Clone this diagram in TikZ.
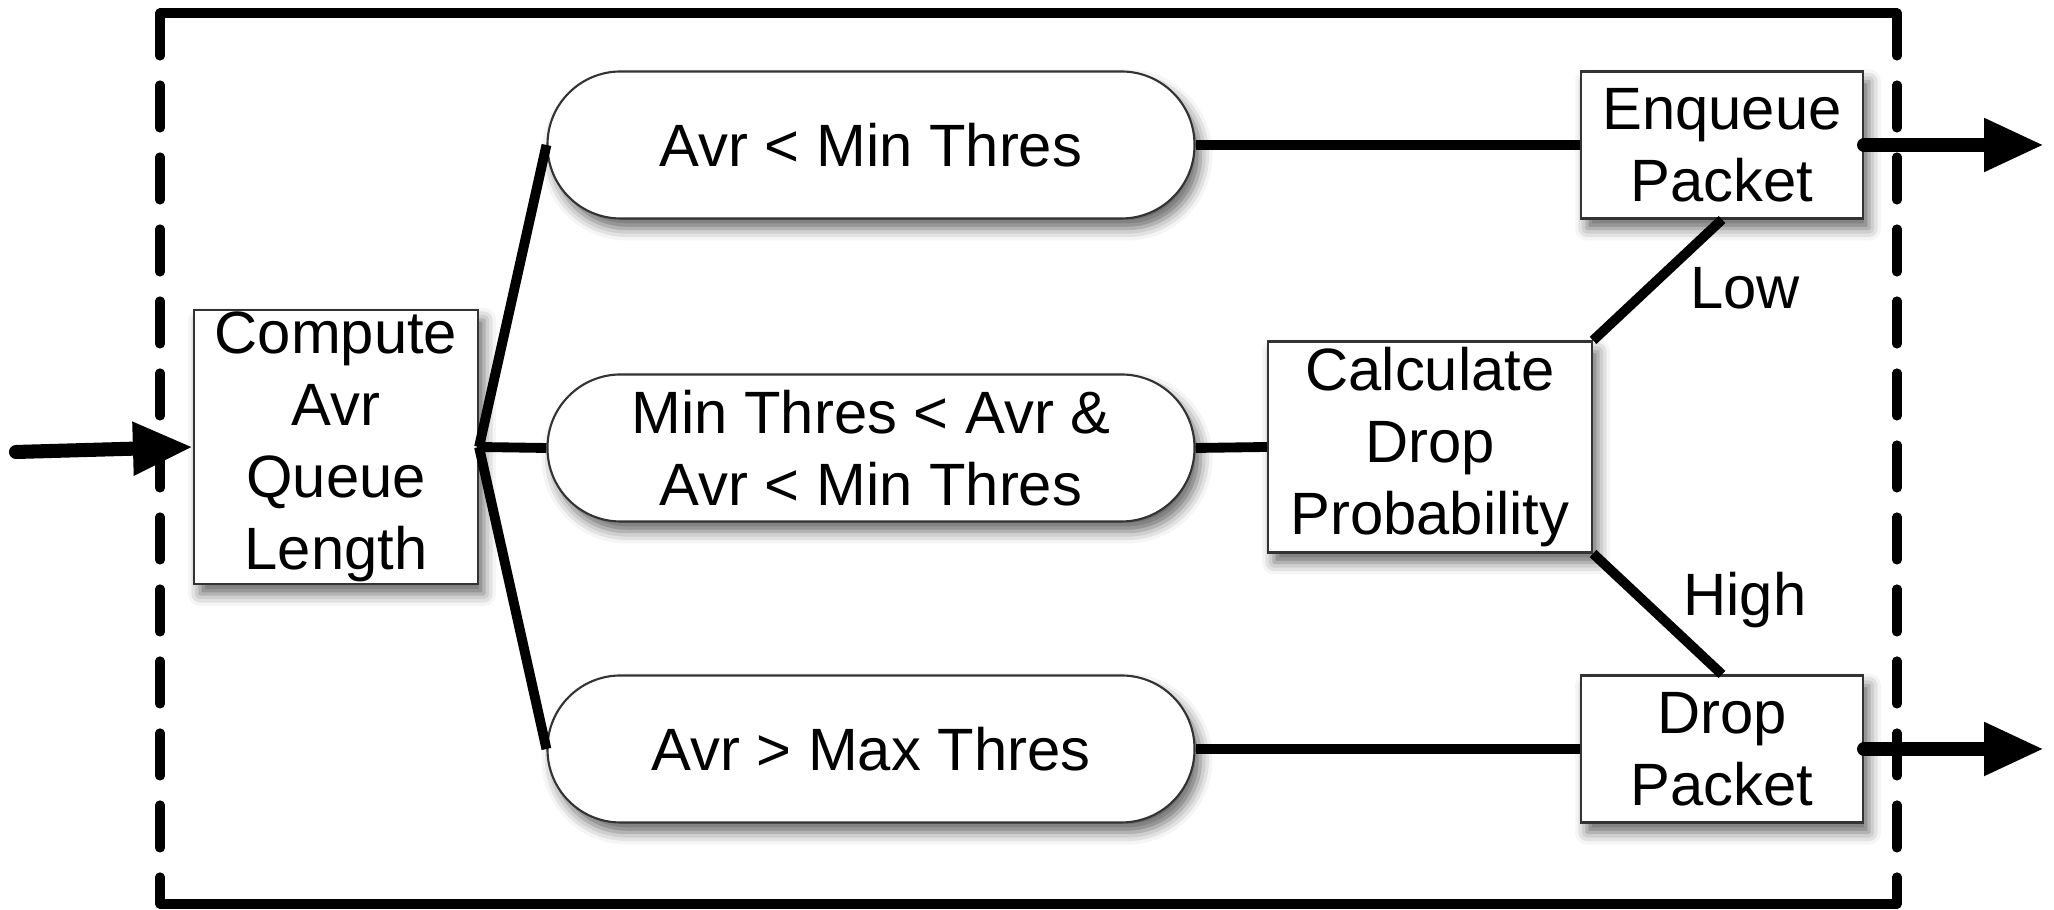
\documentclass[tikz,border=0pt]{standalone}
\usepackage{fontspec}
\setmainfont{Liberation Sans}
\usetikzlibrary{arrows.meta,shadows.blur}

\begin{document}
\begin{tikzpicture}[
        font=\fontsize{17}{20.5}\selectfont,
        box/.style={rectangle, draw=black!80, line width=0.6pt, fill=white, inner sep=0pt, align=center,
            blur shadow={shadow xshift=0.06cm, shadow yshift=-0.1cm, shadow blur radius=0.12cm, shadow opacity=60}},
        cond/.style={box, rounded corners=0.73cm, minimum width=6.47cm, minimum height=1.47cm},
        link/.style={line width=2.8pt},
        flow/.style={line width=4pt, line cap=round, -{Triangle[length=0.6cm, width=0.5cm]}},
        frame/.style={line width=2.6pt, line cap=round}
    ]
        \useasboundingbox (0, 0) rectangle (20.54, 9.10);

        % Frame: solid top and bottom, dashed sides
        \draw[frame] (1.60, 8.97) -- (18.97, 8.97);
        \draw[frame] (1.60, 0.06) -- (18.97, 0.06);
        \draw[frame, dash pattern=on 0.43cm off 0.29cm] (1.60, 8.97) -- (1.60, 0.06);
        \draw[frame, dash pattern=on 0.43cm off 0.29cm] (18.97, 8.97) -- (18.97, 0.06);

        % Nodes
        \node[box, minimum width=2.84cm, minimum height=2.74cm] at (3.36, 4.63)  (avr)   {Compute\\Avr\\Queue\\Length};
        \node[cond] at (8.71, 7.65)  (low)    {Avr < Min Thres};
        \node[cond] at (8.71, 4.62)  (mid)    {Min Thres < Avr \&\\Avr < Min Thres};
        \node[cond] at (8.71, 1.61)  (high)   {Avr > Max Thres};
        \node[box, minimum width=3.24cm, minimum height=2.11cm] at (14.30, 4.63)  (prob)  {Calculate\\Drop\\Probability};
        \node[box, minimum width=2.82cm, minimum height=1.47cm] at (17.22, 7.65)  (enq)   {Enqueue\\Packet};
        \node[box, minimum width=2.82cm, minimum height=1.47cm] at (17.22, 1.61)  (drop)  {Drop\\Packet};

        \node at (17.45, 6.22)  (lowlbl)   {Low};
        \node at (17.45, 3.10)  (highlbl)  {High};

        \draw[link]  (avr.east) -- (low.west);
        \draw[link]  (avr.east) -- (mid.west);
        \draw[link]  (avr.east) -- (high.west);
        \draw[link]  (low.east) -- (enq.west);
        \draw[link]  (mid.east) -- (prob.west);
        \draw[link]  (high.east) -- (drop.west);
        \draw[link]  (prob.north east) -- (enq.south);
        \draw[link]  (prob.south east) -- (drop.north);

        % In and out arrows
        \coordinate (in) at (0.16, 4.58);
        \coordinate (enqout) at (20.44, 7.65);
        \coordinate (dropout) at (20.44, 1.61);

        \draw[flow] (in) -- (avr.west);
        \draw[flow] (enq.east) -- (enqout);
        \draw[flow] (drop.east) -- (dropout);

    \end{tikzpicture}
\end{document}
